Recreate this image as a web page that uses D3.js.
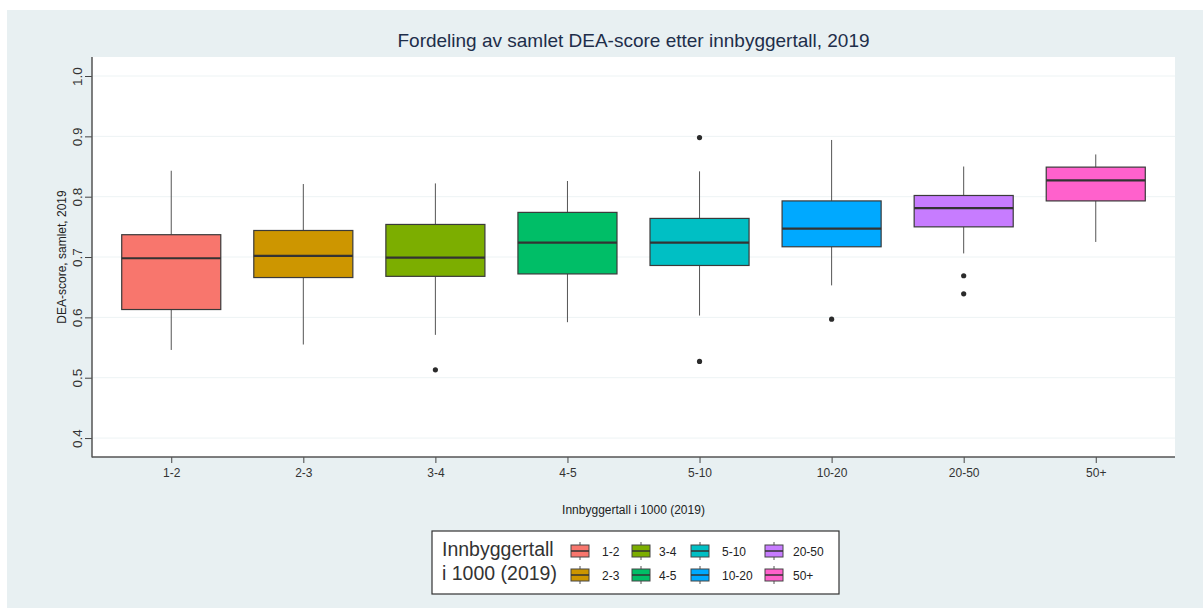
<!DOCTYPE html>
<html>
<head>
<meta charset="utf-8">
<script src="https://cdn.jsdelivr.net/npm/d3@7"></script>
<style>
body { margin: 0; background: #fff; }
svg { display: block; font-family: "Liberation Sans", Arial, sans-serif; }
</style>
</head>
<body>
<div id="graph"></div>
<script>
// category labels and box statistics
var groups = ["1-2", "2-3", "3-4", "4-5", "5-10", "10-20", "20-50", "50+"]
var colors = ["#F8766D", "#CD9600", "#7CAE00", "#00BE67", "#00BFC4", "#00A9FF", "#C77CFF", "#FF61CC"]
var whiskerLow = [0.546, 0.555, 0.571, 0.592, 0.603, 0.653, 0.706, 0.725]
var q1 = [0.613, 0.666, 0.668, 0.672, 0.686, 0.717, 0.750, 0.793]
var medians = [0.698, 0.702, 0.699, 0.724, 0.724, 0.747, 0.781, 0.827]
var q3 = [0.737, 0.744, 0.754, 0.774, 0.764, 0.793, 0.802, 0.849]
var whiskerHigh = [0.843, 0.821, 0.822, 0.826, 0.842, 0.894, 0.850, 0.870]
var outliers = [[], [], [0.513], [], [0.898, 0.527], [0.597], [0.669, 0.639], []]
var yTicks = [0.4, 0.5, 0.6, 0.7, 0.8, 0.9, 1.0]

var W = 1203, H = 608
var panel = {left: 92, right: 1175, top: 57, bottom: 457}

var svg = d3.select("#graph").append("svg").attr("width", W).attr("height", H)

svg.append("rect").attr("x", 7).attr("y", 10).attr("width", W - 7).attr("height", H - 10)
	.attr("fill", "#e8f0f2")
svg.append("rect").attr("x", panel.left).attr("y", panel.top)
	.attr("width", panel.right - panel.left).attr("height", panel.bottom - panel.top)
	.attr("fill", "#fff")

var x = d3.scalePoint().domain(groups).range([panel.left, panel.right]).padding(0.6)
var y = d3.scaleLinear().domain([0.3686, 1.0315]).range([panel.bottom, panel.top])
var boxW = x.step() * 0.75

// grid
svg.append("g").selectAll("line").data(yTicks).enter().append("line")
	.attr("x1", panel.left).attr("x2", panel.right)
	.attr("y1", function(d){ return y(d) }).attr("y2", function(d){ return y(d) })
	.attr("stroke", "#edf3f4").attr("stroke-width", 1)

// axes
var yAxis = svg.append("g").attr("transform", "translate(" + panel.left + ",0)")
	.call(d3.axisLeft(y).tickValues(yTicks).tickSize(7).tickFormat(d3.format(".1f")))
yAxis.select(".domain").remove()
yAxis.selectAll(".tick line").attr("stroke", "#444")
yAxis.selectAll(".tick text")
	.attr("transform", "rotate(-90)").attr("x", 0).attr("y", -10).attr("dy", 0)
	.attr("text-anchor", "middle").attr("font-size", 13.5).attr("fill", "#333")
	.attr("font-family", "Liberation Sans, Arial, sans-serif")

var xAxis = svg.append("g").attr("transform", "translate(0," + panel.bottom + ")")
	.call(d3.axisBottom(x).tickSize(6).tickPadding(5))
xAxis.select(".domain").remove()
xAxis.selectAll(".tick line").attr("stroke", "#444")
xAxis.selectAll(".tick text").attr("font-size", 12).attr("fill", "#333")
	.attr("font-family", "Liberation Sans, Arial, sans-serif")

svg.append("line").attr("x1", panel.left).attr("x2", panel.left)
	.attr("y1", panel.top).attr("y2", panel.bottom + 0.5).attr("stroke", "#555").attr("stroke-width", 1.5)
svg.append("line").attr("x1", panel.left).attr("x2", panel.right)
	.attr("y1", panel.bottom).attr("y2", panel.bottom).attr("stroke", "#555").attr("stroke-width", 1.5)

// boxes
var box = svg.append("g").selectAll("g").data(groups).enter().append("g")
box.append("line")
	.attr("x1", function(d){ return x(d) }).attr("x2", function(d){ return x(d) })
	.attr("y1", function(d, i){ return y(whiskerHigh[i]) }).attr("y2", function(d, i){ return y(q3[i]) })
	.attr("stroke", "#555")
box.append("line")
	.attr("x1", function(d){ return x(d) }).attr("x2", function(d){ return x(d) })
	.attr("y1", function(d, i){ return y(q1[i]) }).attr("y2", function(d, i){ return y(whiskerLow[i]) })
	.attr("stroke", "#555")
box.append("rect")
	.attr("x", function(d){ return x(d) - boxW / 2 }).attr("width", boxW)
	.attr("y", function(d, i){ return y(q3[i]) })
	.attr("height", function(d, i){ return y(q1[i]) - y(q3[i]) })
	.attr("fill", function(d, i){ return colors[i] })
	.attr("stroke", "#3a3a3a").attr("stroke-width", 1.2)
box.append("line")
	.attr("x1", function(d){ return x(d) - boxW / 2 }).attr("x2", function(d){ return x(d) + boxW / 2 })
	.attr("y1", function(d, i){ return y(medians[i]) }).attr("y2", function(d, i){ return y(medians[i]) })
	.attr("stroke", "#333").attr("stroke-width", 2.2)
box.each(function(d, i){
	d3.select(this).selectAll("circle").data(outliers[i]).enter().append("circle")
		.attr("cx", x(d)).attr("cy", function(v){ return y(v) }).attr("r", 2.6)
		.attr("fill", "#2b2b2b")
})

// titles
svg.append("text").attr("x", (panel.left + panel.right) / 2).attr("y", 47)
	.attr("text-anchor", "middle").attr("font-size", 19).attr("fill", "#1e2e4a")
	.text("Fordeling av samlet DEA-score etter innbyggertall, 2019")
svg.append("text").attr("x", (panel.left + panel.right) / 2).attr("y", 514)
	.attr("text-anchor", "middle").attr("font-size", 12).attr("fill", "#222")
	.text("Innbyggertall i 1000 (2019)")
svg.append("text")
	.attr("transform", "translate(66," + (panel.top + panel.bottom) / 2 + ") rotate(-90)")
	.attr("text-anchor", "middle").attr("font-size", 12).attr("fill", "#222")
	.text("DEA-score, samlet, 2019")

// legend
var legend = svg.append("g").attr("transform", "translate(432,531)")
legend.append("rect").attr("width", 407).attr("height", 63)
	.attr("fill", "#fff").attr("stroke", "#333").attr("stroke-width", 1.2)
legend.append("text").attr("x", 10).attr("y", 25).attr("font-size", 19.5).attr("fill", "#333")
	.text("Innbyggertall")
legend.append("text").attr("x", 10).attr("y", 49).attr("font-size", 19.5).attr("fill", "#333")
	.text("i 1000 (2019)")
var colX = [139, 200, 259, 333]
var labX = [170, 227, 290, 361]
var rowY = [20, 44]
var item = legend.selectAll("g.item").data(groups).enter().append("g").attr("class", "item")
	.attr("transform", function(d, i){ return "translate(" + colX[Math.floor(i / 2)] + "," + rowY[i % 2] + ")" })
item.append("line").attr("x1", 9).attr("x2", 9).attr("y1", -9).attr("y2", 9).attr("stroke", "#555")
item.append("rect").attr("x", 0).attr("y", -6).attr("width", 18).attr("height", 12)
	.attr("fill", function(d, i){ return colors[i] }).attr("stroke", "#444")
item.append("line").attr("x1", 0).attr("x2", 18).attr("y1", 0).attr("y2", 0).attr("stroke", "#333").attr("stroke-width", 1.5)
item.append("text")
	.attr("x", function(d, i){ return labX[Math.floor(i / 2)] - colX[Math.floor(i / 2)] })
	.attr("y", 4.5).attr("font-size", 12).attr("fill", "#222")
	.text(function(d){ return d })
</script>
</body>
</html>
